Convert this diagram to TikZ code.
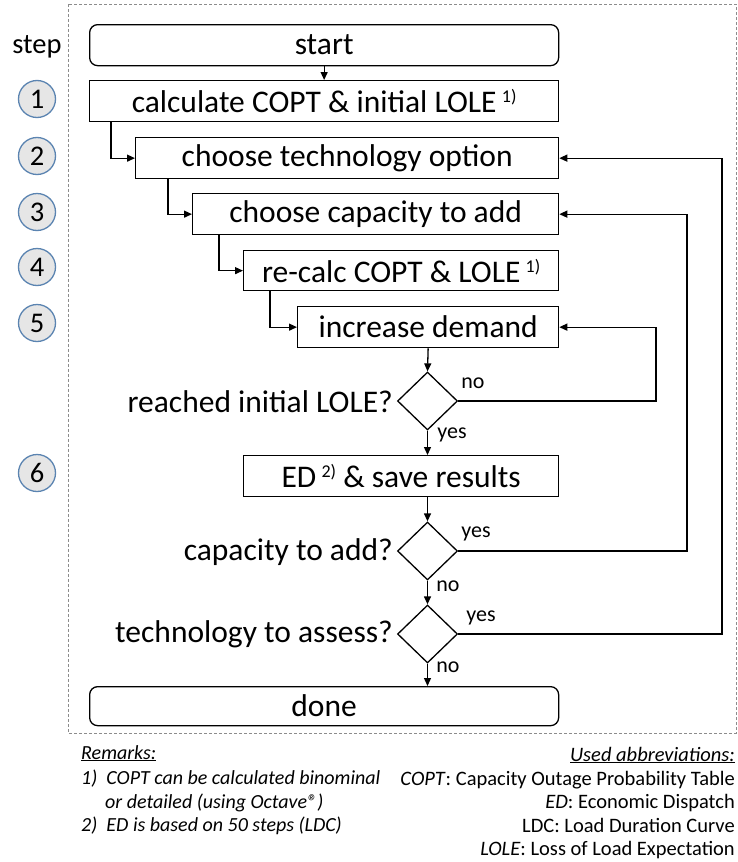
\documentclass[tikz,border=0pt]{standalone}
\usepackage{fontspec}
\setmainfont{Carlito}
\usetikzlibrary{shapes.geometric,arrows.meta}
\newcommand\fsz[2]{\fontsize{#1}{#2}\selectfont}
\newcommand\supnote[1]{\,\raisebox{10pt}{\fsz{18}{20}#1}}
\definecolor{stepblue}{HTML}{5B84B1}
\definecolor{stepgray}{HTML}{E6E6E6}
\definecolor{framegray}{HTML}{8C8C8C}
\begin{document}
\begin{tikzpicture}[x=1pt,y=-1pt,
  box/.style={draw, line width=1.3pt, inner sep=0pt, anchor=north west, font=\fsz{31.5}{35}},
  rbox/.style={box, rounded corners=8pt},
  dec/.style={draw, diamond, line width=1.3pt, inner sep=0pt, minimum width=60, minimum height=58},
  arr/.style={line width=1.3pt, -{Triangle[length=8pt,width=7pt]}},
  stepc/.style={circle, draw=stepblue, fill=stepgray, line width=1.3pt, minimum size=37, inner sep=0pt, font=\fsz{28.5}{30}},
  qlabel/.style={anchor=east, inner sep=0pt, font=\fsz{31.5}{35}},
  yn/.style={inner sep=0pt, font=\fsz{22}{24}},
  rem/.style={inner sep=0pt, anchor=base west, font=\fsz{20}{24}\itshape},
  abbr/.style={inner sep=0pt, anchor=base east, font=\fsz{20.5}{24}}
]
\useasboundingbox[fill=white] (0,0) rectangle (737,862);
% frame
\draw[framegray, line width=0.8pt, dash pattern=on 3pt off 2pt] (68,4) rectangle (736,733);

% step column
\node[inner sep=0pt, font=\fsz{28.5}{32}] (steplbl) at (37,47) {step};
\node[stepc] (s1) at (37,99) {1};
\node[stepc] (s2) at (37,156) {2};
\node[stepc] (s3) at (37,212) {3};
\node[stepc] (s4) at (37,267) {4};
\node[stepc] (s5) at (37,323) {5};
\node[stepc] (s6) at (37,473) {6};

% boxes
\node[rbox, minimum width=469, minimum height=41] (start) at (89,24) {start};
\node[box, minimum width=469, minimum height=41] (b1) at (89,80) {calculate COPT \& initial LOLE\supnote{1)}};
\node[box, minimum width=423, minimum height=41] (b2) at (135,137) {choose technology option};
\node[box, minimum width=366, minimum height=41] (b3) at (192,193) {choose capacity to add};
\node[box, minimum width=315, minimum height=40] (b4) at (243,250) {re-calc COPT \& LOLE\supnote{1)}};
\node[box, minimum width=261, minimum height=41] (b5) at (297,306) {increase demand};
\node[dec] (d1) at (427.5,401) {};
\node[box, minimum width=315, minimum height=41] (b6) at (243,455) {ED\supnote{2)} \& save results};
\node[dec] (d2) at (427.5,551) {};
\node[dec] (d3) at (427.5,634) {};
\node[rbox, minimum width=469, minimum height=39] (done) at (89,686) {done};

% decision texts
\node[qlabel] (q1) at (393,402) {reached initial LOLE?};
\node[qlabel] (q2) at (393,552) {capacity to add?};
\node[qlabel] (q3) at (393,634) {technology to assess?};

% yes/no labels
\node[yn] (n1) at (473,383) {no};
\node[yn] (y1) at (452,435) {yes};
\node[yn] (y2) at (476,534) {yes};
\node[yn] (n2) at (448,586) {no};
\node[yn] (y3) at (481,618) {yes};
\node[yn] (n3) at (448,667) {no};

% connectors
\coordinate (c1) at (111,0);
\coordinate (c2) at (168,0);
\coordinate (c3) at (219,0);
\coordinate (c4) at (270,0);
\coordinate (r1) at (656,0);
\coordinate (r2) at (687,0);
\coordinate (r3) at (722,0);
\draw[arr] (start.south) -- (b1.north);
\draw[arr] (c1 |- b1.south) |- (b2.west);
\draw[arr] (c2 |- b2.south) |- (b3.west);
\draw[arr] (c3 |- b3.south) |- (b4.west);
\draw[arr] (c4 |- b4.south) |- (b5.west);
\draw[arr] (b5.south) -- (d1.north);
\draw[arr] (d1.east) -- (r1 |- d1.east) |- (b5.east);
\draw[arr] (d1.south) -- (d1.south |- b6.north);
\draw[arr] (d1.south |- b6.south) -- (d2.north);
\draw[arr] (d2.east) -- (r2 |- d2.east) |- (b3.east);
\draw[arr] (d2.south) -- (d3.north);
\draw[arr] (d3.east) -- (r3 |- d3.east) |- (b2.east);
\draw[arr] (d3.south) -- (d3.south |- done.north);

% remarks
\node[rem] (rm0) at (81,759) {\underline{Remarks:}};
\node[rem] (rm1) at (81,784) {1)\ \ COPT can be calculated binominal};
\node[rem] (rm2) at (105,808) {or detailed (using Octave®)};
\node[rem] (rm3) at (81,831) {2)\ \ ED is based on 50 steps (LDC)};

% abbreviations
\node[abbr] (ab0) at (735,761) {\textit{\underline{Used abbreviations:}}};
\node[abbr] (ab1) at (735,785) {\textit{COPT}: Capacity Outage Probability Table};
\node[abbr] (ab2) at (735,808) {\textit{ED}: Economic Dispatch};
\node[abbr] (ab3) at (735,832) {LDC: Load Duration Curve};
\node[abbr] (ab4) at (735,855) {\textit{LOLE}: Loss of Load Expectation};
\end{tikzpicture}
\end{document}
